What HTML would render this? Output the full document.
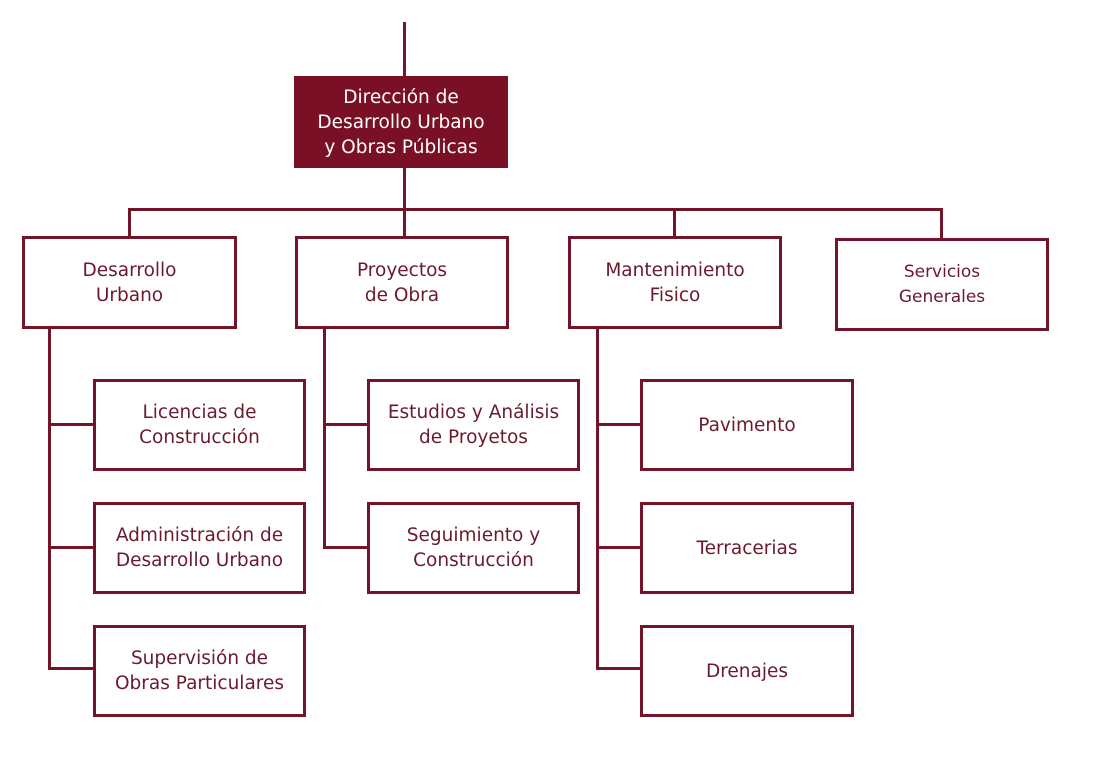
<!DOCTYPE html>
<html><head><meta charset="utf-8"><style>
body{margin:0;background:#fff;width:1108px;height:779px;position:relative;overflow:hidden;font-family:"DejaVu Sans","Liberation Sans",sans-serif;}
.b{position:absolute;box-sizing:border-box;border:3px solid #741428;background:#fff;color:#6a1a2c;display:flex;align-items:center;justify-content:center;text-align:center;font-size:18.5px;line-height:25px;}
.h{background:#7a1025;color:#fff;border-color:#7a1025;}
.l{position:absolute;background:#741428;}
</style></head><body>
<div class="l" style="left:403px;top:22px;width:3px;height:56px"></div>
<div class="b h" style="left:294px;top:76px;width:214px;height:92px">Dirección de<br>Desarrollo Urbano<br>y Obras Públicas</div>
<div class="l" style="left:403px;top:168px;width:3px;height:70px"></div>
<div class="l" style="left:128px;top:208px;width:815px;height:3px"></div>
<div class="l" style="left:128px;top:208px;width:3px;height:30px"></div>
<div class="l" style="left:673px;top:208px;width:3px;height:30px"></div>
<div class="l" style="left:940px;top:208px;width:3px;height:32px"></div>
<div class="b" style="left:22px;top:236px;width:215px;height:93px">Desarrollo<br>Urbano</div>
<div class="b" style="left:295px;top:236px;width:214px;height:93px">Proyectos<br>de Obra</div>
<div class="b" style="left:568px;top:236px;width:214px;height:93px">Mantenimiento<br>Fisico</div>
<div class="b" style="left:835px;top:238px;width:214px;height:93px;font-size:17px">Servicios<br>Generales</div>
<div class="l" style="left:48px;top:328px;width:3px;height:342px"></div>
<div class="l" style="left:48px;top:423px;width:46px;height:3px"></div>
<div class="l" style="left:48px;top:546px;width:46px;height:3px"></div>
<div class="l" style="left:48px;top:667px;width:46px;height:3px"></div>
<div class="l" style="left:323px;top:328px;width:3px;height:221px"></div>
<div class="l" style="left:323px;top:423px;width:45px;height:3px"></div>
<div class="l" style="left:323px;top:546px;width:45px;height:3px"></div>
<div class="l" style="left:596px;top:328px;width:3px;height:342px"></div>
<div class="l" style="left:596px;top:423px;width:45px;height:3px"></div>
<div class="l" style="left:596px;top:546px;width:45px;height:3px"></div>
<div class="l" style="left:596px;top:667px;width:45px;height:3px"></div>
<div class="b" style="left:93px;top:379px;width:213px;height:92px">Licencias de<br>Construcción</div>
<div class="b" style="left:93px;top:502px;width:213px;height:92px">Administración de<br>Desarrollo Urbano</div>
<div class="b" style="left:93px;top:625px;width:213px;height:92px">Supervisión de<br>Obras Particulares</div>
<div class="b" style="left:367px;top:379px;width:213px;height:92px">Estudios y Análisis<br>de Proyetos</div>
<div class="b" style="left:367px;top:502px;width:213px;height:92px">Seguimiento y<br>Construcción</div>
<div class="b" style="left:640px;top:379px;width:214px;height:92px">Pavimento</div>
<div class="b" style="left:640px;top:502px;width:214px;height:92px">Terracerias</div>
<div class="b" style="left:640px;top:625px;width:214px;height:92px">Drenajes</div>
</body></html>
